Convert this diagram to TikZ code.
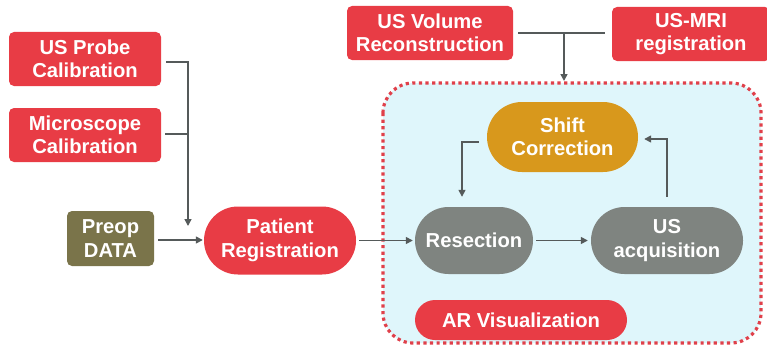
\documentclass[tikz,border=0pt]{standalone}
\usepackage{fontspec}
\setmainfont{Liberation Sans}
\usetikzlibrary{arrows.meta,shapes.misc}
\definecolor{cred}{HTML}{E83C45}
\definecolor{colive}{HTML}{7A744A}
\definecolor{cgold}{HTML}{D8981C}
\definecolor{cgray}{HTML}{7F8480}
\definecolor{cline}{HTML}{555A5A}
\definecolor{cbg}{HTML}{DFF6FB}
\definecolor{cdot}{HTML}{E0404A}
\tikzset{
  txt/.style={text=white,align=center,font=\fontsize{20.2}{23.5}\selectfont\bfseries,inner sep=0pt},
  sqbox/.style={txt,rectangle,rounded corners=5pt,draw=none},
  pill/.style={txt,rounded rectangle,draw=none},
  conn/.style={draw=cline,line width=1.5pt},
  arr/.style={conn,-{Triangle[length=7pt,width=7pt]}},
}
\begin{document}
\begin{tikzpicture}[x=1pt,y=-1pt]
\useasboundingbox (0,0) rectangle (767,345);
% container
\draw[fill=cbg,draw=cdot,line width=3.2pt,dash pattern=on 3.2pt off 3.4pt,rounded corners=30pt] (383,83) rectangle (761,343);
% nodes
\node[sqbox,fill=cred,minimum width=152pt,minimum height=54pt] (probe) at (85,59) {US Probe\\Calibration};
\node[sqbox,fill=cred,minimum width=152pt,minimum height=54pt] (micro) at (85,135) {Microscope\\Calibration};
\node[sqbox,fill=colive,minimum width=87pt,minimum height=55pt] (preop) at (110.5,238.5) {Preop\\DATA};
\node[pill,fill=cred,minimum width=152pt,minimum height=68pt] (patient) at (280,240.5) {Patient\\Registration};
\node[sqbox,fill=cred,minimum width=166pt,minimum height=54pt] (usvol) at (430,33) {US Volume\\Reconstruction};
\node[sqbox,fill=cred,minimum width=158pt,minimum height=54pt] (usmri) at (691,34) {US-MRI\\registration};
\node[pill,fill=cgold,minimum width=151pt,minimum height=70pt] (shift) at (562.5,137) {Shift\\Correction};
\node[pill,fill=cgray,minimum width=118pt,minimum height=67pt] (resec) at (474,240.5) {Resection};
\node[pill,fill=cgray,minimum width=152pt,minimum height=67pt] (usacq) at (667,240.5) {US\\acquisition};
\node[pill,fill=cred,minimum width=212pt,minimum height=40pt] (arvis) at (521,320) {AR Visualization};
% junction coordinates
\coordinate (pj) at (188,62);
\coordinate (mj) at (188,134);
\coordinate (pend) at (188,226);
\coordinate (rowa) at (0,240);
\coordinate (tj) at (564,33);
\coordinate (tend) at (564,81);
\coordinate (sl) at (462,142);
\coordinate (ur) at (667,139);
% connectors
\draw[conn] ([xshift=5pt]probe.east |- pj) -- (pj) -- (mj);
\draw[conn] ([xshift=4pt]micro.east |- mj) -- (mj);
\draw[arr] (mj) -- (pend);
\draw[arr] ([xshift=4pt]preop.east |- rowa) -- ([xshift=-1pt]patient.west |- rowa);
\draw[arr] ([xshift=3pt]patient.east) -- ([xshift=-2pt]resec.west);
\draw[conn] ([xshift=5pt]usvol.east) -- ([xshift=-7pt]usvol.east -| usmri.west);
\draw[arr] (tj) -- (tend);
\draw[arr] ([xshift=-8pt]shift.west |- sl) -- (sl) -- ([yshift=10pt]sl |- resec.north);
\draw[arr] ([yshift=10pt]ur |- usacq.north) -- (ur) -- ([xshift=6pt]shift.east |- ur);
\draw[arr] ([xshift=3pt]resec.east) -- ([xshift=-3pt]usacq.west);
\end{tikzpicture}
\end{document}
